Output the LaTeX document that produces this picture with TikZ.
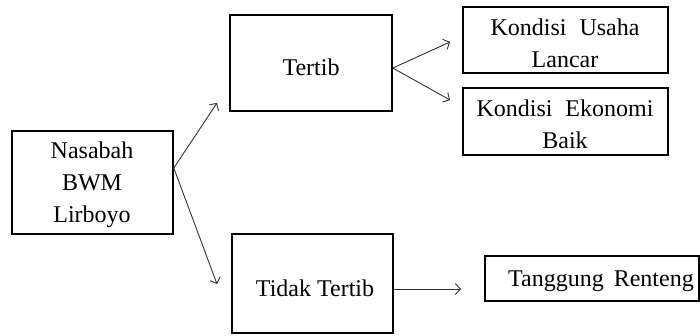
\documentclass[tikz,border=0pt]{standalone}
\usepackage{fontspec}
\setmainfont{Liberation Serif}
\usetikzlibrary{arrows.meta}
\begin{document}
\begin{tikzpicture}[x=1pt,y=-1pt,
  box/.style={draw=black,line width=1.6pt,inner sep=0pt},
  lbl/.style={inner sep=0pt,align=center,font=\fontsize{24}{32}\selectfont,text=black},
  conn/.style={draw=black!80,line width=0.9pt,-{Straight Barb[length=5pt,width=11pt,line width=0.9pt]}}]
\useasboundingbox (0,0) rectangle (700,335);
% boxes
\node[box,minimum width=161pt,minimum height=103pt] (nas) at (92.5,182.5) {};
\node[box,minimum width=162pt,minimum height=96pt] (ter) at (311,63) {};
\node[box,minimum width=161pt,minimum height=99pt] (tid) at (312.5,283.5) {};
\node[box,minimum width=205pt,minimum height=66pt] (kul) at (565.5,40) {};
\node[box,minimum width=205pt,minimum height=67pt] (keb) at (565.5,121.5) {};
\node[box,minimum width=214pt,minimum height=45pt] (tr) at (592,278.5) {};
% texts
\node[lbl] (nast) at (92,185) {Nasabah\\BWM\\Lirboyo};
\node[lbl] (tert) at (311,67) {Tertib};
\node[lbl] (tidt) at (315,288) {Tidak Tertib};
\node[lbl] (kult) at (565,43.5) {Kondisi\hspace{7pt} Usaha\\Lancar};
\node[lbl] (kebt) at (565,124) {Kondisi\hspace{7pt} Ekonomi\\Baik};
\node[lbl,anchor=east] (trt) at (694,281) {Tanggung\hspace{4pt} Renteng};
% arrow tips
\coordinate (c1) at (217,103);
\coordinate (c2) at (217,284);
\coordinate (c3) at (450,42);
\coordinate (c4) at (450,100);
\coordinate (c5) at (461,289);
% connectors
\draw[conn] ([yshift=14.5pt]nas.east) -- (c1);
\draw[conn] ([yshift=14.5pt]nas.east) -- (c2);
\draw[conn] ([yshift=-5pt]ter.east) -- (c3);
\draw[conn] ([yshift=-5pt]ter.east) -- (c4);
\draw[conn] ([yshift=-5.5pt]tid.east) -- (c5);
\end{tikzpicture}
\end{document}
